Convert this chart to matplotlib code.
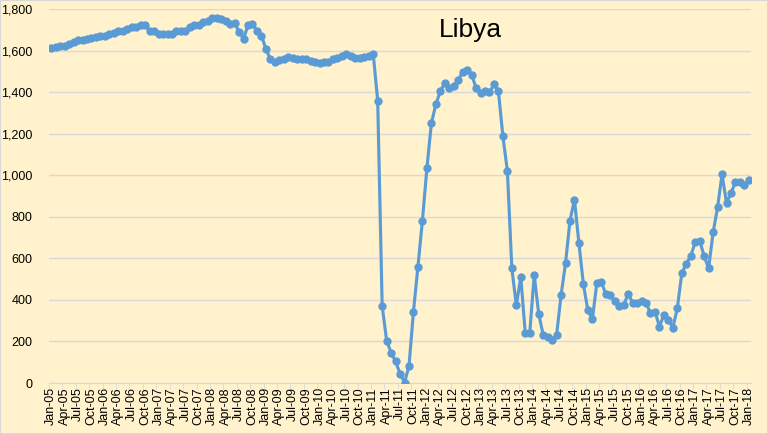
import matplotlib
matplotlib.use("Agg")
import matplotlib.pyplot as plt
from matplotlib.patches import Rectangle

# -------- Data (kb/d, monthly Jan-05 .. Jan-18) --------
years = list(range(2005, 2019))
month_names = ['Jan', 'Feb', 'Mar', 'Apr', 'May', 'Jun',
               'Jul', 'Aug', 'Sep', 'Oct', 'Nov', 'Dec']
months = [f"{m}-{str(y)[2:]}" for y in years for m in month_names][:157]

production_2005_2008 = [
    1611, 1619, 1624, 1623, 1631, 1642, 1650, 1650, 1656, 1660, 1668, 1671,
    1669, 1679, 1684, 1694, 1697, 1706, 1715, 1716, 1723, 1724, 1695, 1695,
    1682, 1679, 1681, 1682, 1695, 1695, 1695, 1713, 1723, 1724, 1739, 1744,
    1755, 1755, 1752, 1745, 1729, 1735, 1689, 1658, 1723, 1729, 1695, 1671,
]
production_2009_2012 = [
    1610, 1558, 1547, 1555, 1560, 1569, 1563, 1558, 1560, 1558, 1550, 1547,
    1539, 1544, 1547, 1558, 1566, 1574, 1582, 1574, 1563, 1563, 1568, 1574,
    1584, 1360, 371, 204, 146, 104, 45, 2, 82, 344, 560, 782,
    1033, 1250, 1341, 1405, 1444, 1421, 1431, 1461, 1495, 1505, 1484, 1421,
]
production_2013_2018 = [
    1397, 1405, 1399, 1439, 1405, 1187, 1021, 552, 374, 510, 240, 240,
    520, 333, 232, 221, 208, 230, 422, 576, 782, 883, 672, 475,
    350, 307, 480, 486, 429, 422, 395, 373, 374, 429, 387, 387,
    395, 387, 336, 344, 272, 328, 304, 266, 360, 528, 574, 611,
    678, 685, 611, 552, 725, 845, 1005, 867, 915, 966, 970, 954,
    976,
]
production = production_2005_2008 + production_2009_2012 + production_2013_2018

y_ticks = list(range(0, 1801, 200))

# -------- Plot --------
bg = '#FFF2CC'
fig = plt.figure(figsize=(7.68, 4.34), dpi=100, facecolor=bg)
ax = fig.add_axes([0.0638, 0.1175, 0.9142, 0.8615], facecolor=bg)

x = list(range(len(production)))
ax.plot(x, production, color='#5B9BD5', linewidth=2.25, marker='o',
        markersize=5, zorder=3)

ax.set_xlim(-0.5, len(production) - 0.5)
ax.set_ylim(0, 1800)
ax.set_yticks(y_ticks)
ax.set_yticklabels([f"{v:,}" for v in y_ticks], fontsize=9,
                   family='Liberation Sans')
ax.yaxis.grid(True, color='#D9D9D9', linewidth=1)
ax.set_axisbelow(True)

ax.set_xticks(x[::3])
ax.set_xticklabels(months[::3], rotation=90, fontsize=9,
                   family='Liberation Sans')
ax.set_xticks([i - 0.5 for i in range(0, len(production) + 1, 3)], minor=True)
ax.tick_params(axis='x', which='major', length=0, pad=3)
ax.tick_params(axis='x', which='minor', length=4, color='#D9D9D9')
ax.tick_params(axis='y', length=0, pad=12)

for side in ['top', 'right', 'left']:
    ax.spines[side].set_visible(False)
ax.spines['bottom'].set_color('#D9D9D9')

ax.text(0.6, 0.945, 'Libya', transform=ax.transAxes, fontsize=19,
        ha='center', va='center', family='Liberation Sans')

fig.patches.append(Rectangle((0, 0), 1, 1, transform=fig.transFigure,
                             fill=False, edgecolor='#D9D9D9', linewidth=1.5))

fig.savefig('out.png', dpi=100, facecolor=bg)
